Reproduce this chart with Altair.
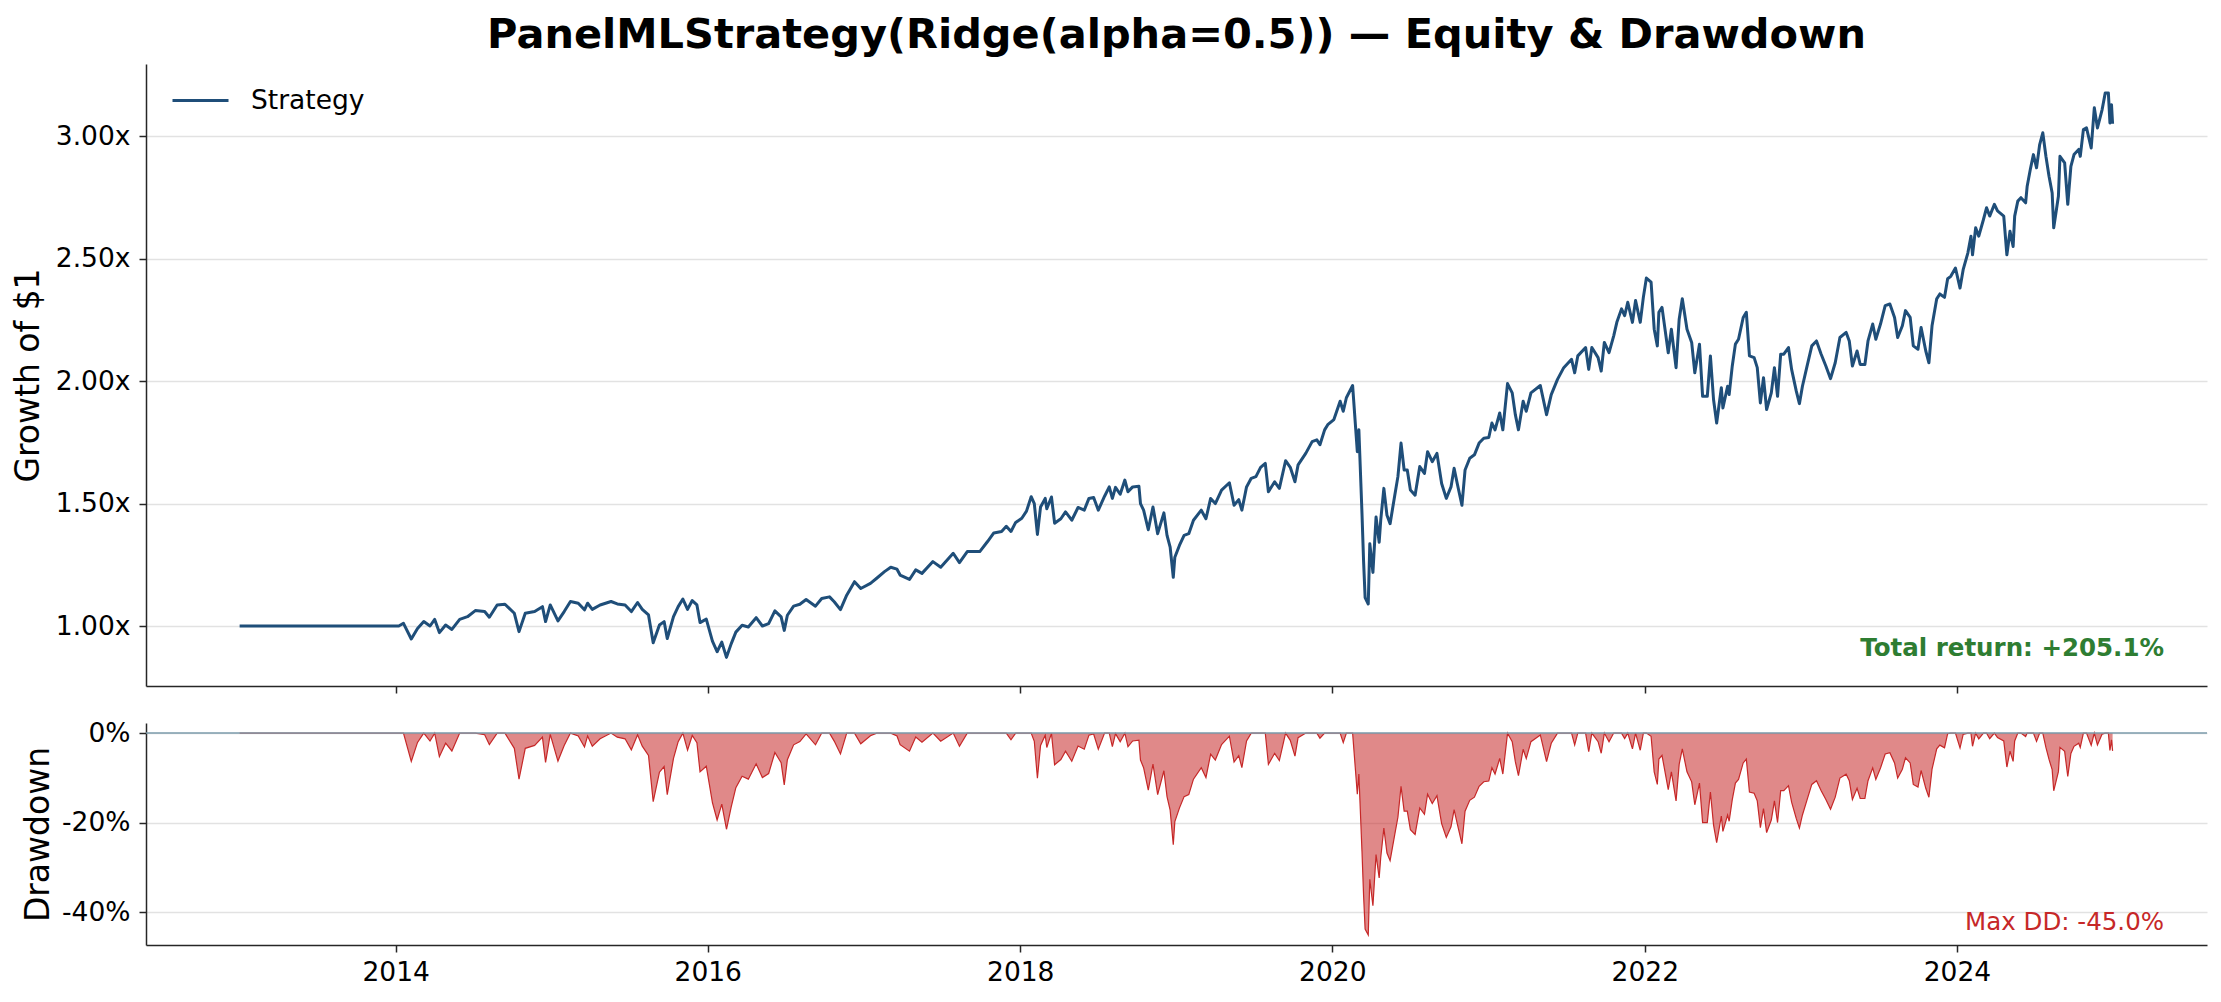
import altair as alt
import numpy as np
import pandas as pd

# ---- data (decimal year, growth of $1) ----
years = [
    2013.00, 2014.02, 2014.05, 2014.10, 2014.14, 2014.18, 2014.22, 2014.25, 2014.28, 2014.32,
    2014.36, 2014.41, 2014.46, 2014.51, 2014.57, 2014.60, 2014.65, 2014.70, 2014.76, 2014.79,
    2014.83, 2014.89, 2014.94, 2014.96, 2014.99, 2015.04, 2015.08, 2015.12, 2015.17, 2015.21,
    2015.23, 2015.26, 2015.31, 2015.38, 2015.42, 2015.47, 2015.51, 2015.55, 2015.58, 2015.62,
    2015.65, 2015.69, 2015.72, 2015.74, 2015.78, 2015.81, 2015.84, 2015.87, 2015.90, 2015.93,
    2015.95, 2015.99, 2016.03, 2016.06, 2016.09, 2016.12, 2016.15, 2016.18, 2016.22, 2016.26,
    2016.31, 2016.35, 2016.39, 2016.43, 2016.47, 2016.49, 2016.51, 2016.55, 2016.59, 2016.63,
    2016.69, 2016.73, 2016.78, 2016.81, 2016.85, 2016.89, 2016.94, 2016.98, 2017.04, 2017.08,
    2017.13, 2017.17, 2017.21, 2017.23, 2017.29, 2017.33, 2017.37, 2017.44, 2017.49, 2017.57,
    2017.61, 2017.66, 2017.74, 2017.79, 2017.83, 2017.88, 2017.91, 2017.94, 2017.97, 2018.01,
    2018.04, 2018.07, 2018.09, 2018.11, 2018.13, 2018.16, 2018.17, 2018.20, 2018.22, 2018.26,
    2018.29, 2018.33, 2018.37, 2018.41, 2018.44, 2018.47, 2018.50, 2018.54, 2018.57, 2018.59,
    2018.61, 2018.64, 2018.67, 2018.69, 2018.72, 2018.76, 2018.77, 2018.79, 2018.82, 2018.85,
    2018.88, 2018.92, 2018.94, 2018.96, 2018.98, 2018.99, 2019.02, 2019.05, 2019.08, 2019.11,
    2019.16, 2019.19, 2019.22, 2019.25, 2019.29, 2019.34, 2019.37, 2019.40, 2019.42, 2019.45,
    2019.48, 2019.51, 2019.54, 2019.57, 2019.59, 2019.63, 2019.66, 2019.70, 2019.73, 2019.76,
    2019.78, 2019.83, 2019.87, 2019.90, 2019.92, 2019.95, 2019.97, 2020.01, 2020.05, 2020.07,
    2020.09, 2020.13, 2020.16, 2020.17, 2020.19, 2020.20, 2020.21, 2020.23, 2020.24, 2020.26,
    2020.28, 2020.30, 2020.31, 2020.33, 2020.35, 2020.37, 2020.40, 2020.42, 2020.44, 2020.46,
    2020.48, 2020.50, 2020.53, 2020.56, 2020.59, 2020.61, 2020.64, 2020.67, 2020.70, 2020.73,
    2020.76, 2020.78, 2020.80, 2020.83, 2020.85, 2020.88, 2020.91, 2020.94, 2020.97, 2021.00,
    2021.02, 2021.04, 2021.07, 2021.09, 2021.12, 2021.15, 2021.17, 2021.19, 2021.22, 2021.24,
    2021.27, 2021.33, 2021.37, 2021.40, 2021.44, 2021.48, 2021.53, 2021.55, 2021.57, 2021.62,
    2021.64, 2021.66, 2021.70, 2021.72, 2021.74, 2021.77, 2021.80, 2021.82, 2021.85, 2021.87,
    2021.89, 2021.92, 2021.94, 2021.97, 2021.99, 2022.01, 2022.04, 2022.06, 2022.08, 2022.09,
    2022.11, 2022.15, 2022.17, 2022.20, 2022.22, 2022.24, 2022.27, 2022.30, 2022.32, 2022.35,
    2022.37, 2022.40, 2022.42, 2022.44, 2022.46, 2022.49, 2022.50, 2022.53, 2022.54, 2022.56,
    2022.58, 2022.60, 2022.63, 2022.65, 2022.67, 2022.70, 2022.72, 2022.74, 2022.76, 2022.78,
    2022.81, 2022.83, 2022.85, 2022.87, 2022.89, 2022.92, 2022.94, 2022.97, 2022.99, 2023.01,
    2023.04, 2023.07, 2023.10, 2023.13, 2023.16, 2023.19, 2023.22, 2023.25, 2023.29, 2023.31,
    2023.33, 2023.36, 2023.38, 2023.41, 2023.43, 2023.46, 2023.48, 2023.51, 2023.54, 2023.57,
    2023.60, 2023.62, 2023.65, 2023.67, 2023.70, 2023.72, 2023.75, 2023.77, 2023.80, 2023.82,
    2023.84, 2023.87, 2023.89, 2023.92, 2023.94, 2023.96, 2023.99, 2024.02, 2024.04, 2024.07,
    2024.09, 2024.10, 2024.12, 2024.14, 2024.17, 2024.19, 2024.21, 2024.24, 2024.26, 2024.30,
    2024.32, 2024.34, 2024.36, 2024.37, 2024.39, 2024.41, 2024.44, 2024.45, 2024.47, 2024.49,
    2024.51, 2024.53, 2024.55, 2024.57, 2024.59, 2024.61, 2024.62, 2024.65, 2024.66, 2024.69,
    2024.71, 2024.73, 2024.75, 2024.78, 2024.79, 2024.81, 2024.83, 2024.86, 2024.88, 2024.90,
    2024.93, 2024.95, 2024.97, 2024.98, 2024.99, 2024.997,
]
equity = [
    1.000, 1.000, 1.011, 0.947, 0.990, 1.018, 1.000, 1.027, 0.973, 1.004,
    0.986, 1.027, 1.038, 1.063, 1.059, 1.036, 1.086, 1.089, 1.052, 0.977,
    1.052, 1.059, 1.079, 1.018, 1.086, 1.021, 1.059, 1.100, 1.093, 1.066,
    1.093, 1.068, 1.086, 1.100, 1.090, 1.086, 1.059, 1.096, 1.068, 1.045,
    0.932, 1.004, 1.018, 0.949, 1.038, 1.079, 1.110, 1.068, 1.104, 1.086,
    1.014, 1.028, 0.938, 0.895, 0.934, 0.872, 0.927, 0.975, 1.003, 0.996,
    1.034, 1.000, 1.010, 1.062, 1.037, 0.982, 1.044, 1.081, 1.089, 1.108,
    1.081, 1.112, 1.119, 1.099, 1.067, 1.126, 1.181, 1.153, 1.174, 1.195,
    1.222, 1.240, 1.232, 1.208, 1.190, 1.229, 1.215, 1.263, 1.240, 1.297,
    1.259, 1.304, 1.304, 1.345, 1.380, 1.386, 1.407, 1.386, 1.423, 1.440,
    1.469, 1.528, 1.500, 1.374, 1.486, 1.521, 1.479, 1.527, 1.420, 1.438,
    1.466, 1.432, 1.484, 1.473, 1.521, 1.525, 1.473, 1.530, 1.568, 1.521,
    1.566, 1.538, 1.596, 1.548, 1.568, 1.571, 1.500, 1.473, 1.393, 1.486,
    1.377, 1.462, 1.370, 1.322, 1.199, 1.281, 1.329, 1.370, 1.377, 1.432,
    1.473, 1.438, 1.521, 1.500, 1.555, 1.585, 1.493, 1.516, 1.473, 1.568,
    1.603, 1.610, 1.648, 1.664, 1.548, 1.589, 1.562, 1.675, 1.648, 1.589,
    1.658, 1.706, 1.753, 1.760, 1.740, 1.801, 1.822, 1.843, 1.918, 1.877,
    1.932, 1.982, 1.712, 1.801, 1.459, 1.267, 1.116, 1.090, 1.336, 1.219,
    1.445, 1.342, 1.432, 1.562, 1.452, 1.418, 1.534, 1.610, 1.747, 1.637,
    1.637, 1.555, 1.534, 1.651, 1.623, 1.712, 1.671, 1.705, 1.582, 1.521,
    1.568, 1.644, 1.582, 1.493, 1.637, 1.685, 1.699, 1.747, 1.767, 1.770,
    1.829, 1.801, 1.870, 1.801, 1.990, 1.952, 1.863, 1.801, 1.918, 1.877,
    1.952, 1.982, 1.863, 1.945, 2.007, 2.055, 2.089, 2.034, 2.103, 2.137,
    2.048, 2.137, 2.096, 2.041, 2.158, 2.116, 2.185, 2.240, 2.295, 2.267,
    2.322, 2.240, 2.329, 2.240, 2.343, 2.421, 2.404, 2.212, 2.144, 2.281,
    2.301, 2.116, 2.212, 2.055, 2.253, 2.336, 2.212, 2.158, 2.034, 2.151,
    1.938, 1.938, 2.103, 1.925, 1.829, 1.973, 1.890, 1.979, 1.945, 2.062,
    2.151, 2.171, 2.260, 2.281, 2.103, 2.096, 2.055, 1.911, 2.014, 1.884,
    1.952, 2.055, 1.938, 2.110, 2.110, 2.137, 2.048, 1.959, 1.908, 1.979,
    2.062, 2.144, 2.164, 2.110, 2.062, 2.010, 2.075, 2.178, 2.199, 2.164,
    2.062, 2.123, 2.068, 2.068, 2.164, 2.233, 2.171, 2.233, 2.308, 2.315,
    2.260, 2.178, 2.226, 2.288, 2.260, 2.144, 2.130, 2.219, 2.123, 2.075,
    2.226, 2.336, 2.356, 2.342, 2.418, 2.428, 2.462, 2.380, 2.455, 2.523,
    2.592, 2.516, 2.626, 2.592, 2.660, 2.708, 2.674, 2.722, 2.695, 2.674,
    2.516, 2.612, 2.550, 2.674, 2.735, 2.749, 2.728, 2.796, 2.864, 2.925,
    2.871, 2.966, 3.014, 2.918, 2.837, 2.768, 2.626, 2.755, 2.918, 2.891,
    2.722, 2.877, 2.925, 2.946, 2.918, 3.027, 3.034, 2.952, 3.116, 3.034,
    3.109, 3.177, 3.177, 3.054, 3.129, 3.051,
]

series_name = ["Strategy"]
title_text = "PanelMLStrategy(Ridge(alpha=0.5)) \u2014 Equity & Drawdown"
total_return_label = ["Total return: +205.1%"]
max_dd_label = ["Max DD: -45.0%"]
x_tick_years = [2014, 2016, 2018, 2020, 2022, 2024]
equity_ticks = [1.0, 1.5, 2.0, 2.5, 3.0]
drawdown_ticks = [0.0, -0.2, -0.4]

# ---- tables ----
yr = np.array(years)
base = pd.to_datetime([f"{int(np.floor(y))}-01-01" for y in yr])
dates = base + pd.to_timedelta((yr - np.floor(yr)) * 365.25, unit="D")
df = pd.DataFrame({"date": dates, "equity": equity})
df["drawdown"] = df["equity"] / df["equity"].cummax() - 1.0
df["series"] = series_name[0]

zero_df = pd.DataFrame({"z": [0.0]})
tr_df = pd.DataFrame({"t": total_return_label})
dd_df = pd.DataFrame({"t": max_dd_label})

W = 2061
H_TOP = 622
H_BOT = 222

x_domain = [alt.DateTime(year=2012, month=5, date=27), alt.DateTime(year=2025, month=8, date=8)]
x_scale = alt.Scale(domain=x_domain)
x_vals = [alt.DateTime(year=y, month=1, date=1) for y in x_tick_years]

BLUE = "#1f4e79"
RED = "#c62828"
GREEN = "#2e7d32"

x_top = alt.X("date:T", scale=x_scale,
              axis=alt.Axis(values=x_vals, labels=False, title=None, grid=False))
x_bot = alt.X("date:T", scale=x_scale,
              axis=alt.Axis(values=x_vals, format="%Y", title=None, grid=False, labelFlush=False))

line = alt.Chart(df).mark_line(strokeWidth=3.0, strokeJoin="round").encode(
    x=x_top,
    y=alt.Y("equity:Q",
            scale=alt.Scale(domain=[0.755, 3.295], nice=False, zero=False),
            axis=alt.Axis(values=equity_ticks, labelExpr="format(datum.value, '.2f') + 'x'",
                          title="Growth of $1", grid=True, titlePadding=10)),
    color=alt.Color("series:N",
                    scale=alt.Scale(domain=series_name, range=[BLUE]),
                    legend=alt.Legend(title=None, orient="none", legendX=25, legendY=7,
                                      symbolType="stroke", symbolSize=3136, symbolStrokeWidth=2.8,
                                      labelFontSize=26.5, labelOffset=21, padding=0,
                                      labelColor="#000")),
)

tr_text = alt.Chart(tr_df).mark_text(align="right", baseline="middle", fontSize=24.5,
                                     fontWeight="bold", color=GREEN).encode(
    text="t:N", x=alt.value(2018), y=alt.value(585))

top = alt.layer(line, tr_text).properties(
    width=W, height=H_TOP,
    title=alt.TitleParams(title_text, fontSize=41.5, fontWeight="bold", anchor="middle",
                          frame="group", offset=8, color="#000"),
)

y_dd = alt.Y("drawdown:Q",
             scale=alt.Scale(domain=[-0.4725, 0.0225], nice=False, zero=False),
             axis=alt.Axis(values=drawdown_ticks,
                           labelExpr="(datum.value < 0 ? '-' : '') + format(abs(datum.value) * 100, '.0f') + '%'",
                           title="Drawdown", grid=True, titlePadding=6))

area = alt.Chart(df).mark_area(color=RED, opacity=0.55).encode(x=x_bot, y=y_dd)
dd_line = alt.Chart(df).mark_line(color=RED, strokeWidth=1.2).encode(x=x_bot, y=y_dd)
zero_rule = alt.Chart(zero_df).mark_rule(color="#7d9cad", strokeWidth=1.5).encode(y=alt.Y("z:Q"))
dd_text = alt.Chart(dd_df).mark_text(align="right", baseline="middle", fontSize=24.5,
                                     color=RED).encode(
    text="t:N", x=alt.value(2018), y=alt.value(200))

bottom = alt.layer(area, dd_line, zero_rule, dd_text).properties(width=W, height=H_BOT)

chart = alt.vconcat(top, bottom, spacing=26).configure(
    font="DejaVu Sans",
    background="white",
    padding={"left": 12, "top": 14, "right": 0, "bottom": 0},
).configure_view(stroke=None).configure_axis(
    domainColor="#262626", domainWidth=1.5, tickColor="#262626", tickWidth=1.5, tickSize=7,
    labelFontSize=26.5, labelColor="#000", labelPadding=9,
    titleFontSize=33, titleFontWeight="normal", titleColor="#000",
    gridColor="#e2e2e2", gridWidth=1.3,
).configure_axisX(labelPadding=7)

chart.save("out.html", embed_options={"renderer": "svg", "actions": False})
